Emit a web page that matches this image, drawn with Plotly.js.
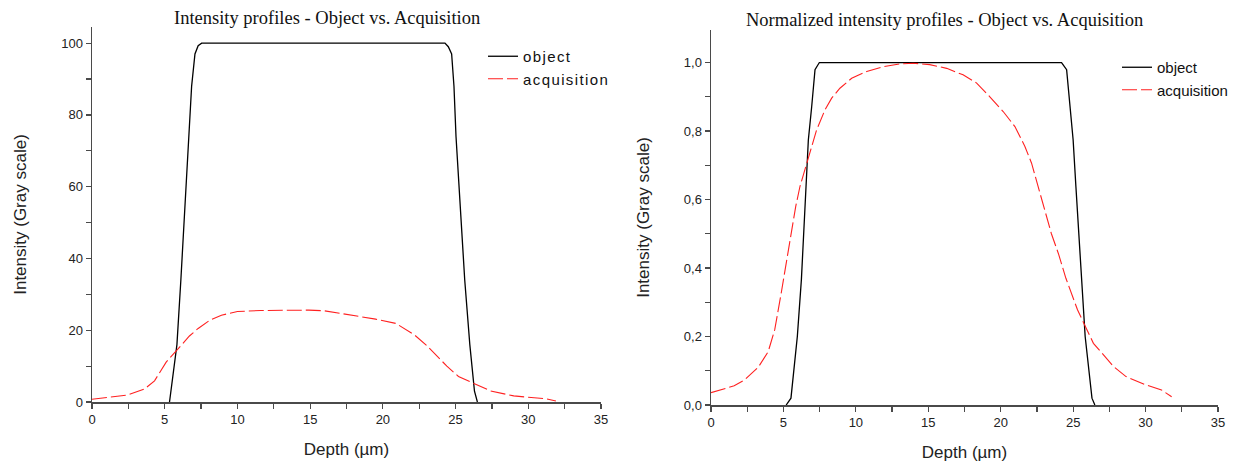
<!DOCTYPE html>
<html>
<head>
<meta charset="utf-8">
<script src="https://cdn.plot.ly/plotly-3.0.1.min.js"></script>
<style>
  html, body { margin: 0; padding: 0; background: #fff; }
  #chart { width: 1256px; height: 465px; }
  .legendtext { letter-spacing: 1.4px; }
</style>
</head>
<body>
<div id="chart"></div>
<script>
// ---- Left panel: raw intensity profiles ----
const objDepthL = [5.33, 5.43, 5.84, 6.11, 6.69, 6.85, 7.08, 7.3, 7.54, 24.27, 24.5, 24.73, 24.89, 25.03, 25.63, 25.98, 26.3, 26.5];
const objIntL   = [0, 3, 16, 34, 74, 88, 97, 99.3, 100, 100, 99, 97, 88, 74, 34, 16, 3, 0];
const acqDepthL = [0, 1.58, 2.4, 3.6, 4.3, 5.1, 5.9, 6.7, 7.3, 8.1, 8.9, 10, 11.6, 12.7, 14.9, 16, 17.6, 19.5, 20.9, 22.2, 23.0, 24.4, 25.2, 26.3, 27.4, 29.0, 30.1, 31.2, 31.9];
const acqIntL   = [0.75, 1.5, 1.9, 3.6, 5.9, 11.1, 14.8, 18.4, 20.5, 22.8, 24.2, 25.2, 25.5, 25.6, 25.6, 25.4, 24.4, 23.1, 21.9, 18.6, 15.8, 10, 7.1, 5, 3.1, 1.7, 1.2, 0.9, 0.3];

// ---- Right panel: normalized intensity profiles ----
const objDepthR = [5.19, 5.52, 5.96, 6.24, 6.56, 6.72, 6.95, 7.18, 7.48, 24.2, 24.55, 24.78, 25.0, 25.19, 25.56, 25.83, 26.3, 26.5];
const objIntR   = [0, 0.02, 0.2, 0.366, 0.638, 0.774, 0.871, 0.979, 1, 1, 0.979, 0.871, 0.774, 0.638, 0.366, 0.2, 0.02, 0];
const acqDepthR = [0, 1.6, 2.3, 3.26, 3.95, 4.4, 4.86, 5.2, 5.5, 5.85, 6.14, 6.72, 7.29, 7.87, 8.33, 8.9, 9.71, 10.75, 11.89, 13.04, 13.96, 15.1, 16.27, 17.4, 18.34, 19.25, 20.17, 20.98, 21.67, 22.13, 22.59, 23.0, 23.5, 24.0, 24.5, 25.3, 26.4, 27.8, 28.65, 30.0, 31.1, 31.8];
const acqIntR   = [0.036, 0.056, 0.073, 0.110, 0.156, 0.22, 0.33, 0.42, 0.5, 0.58, 0.638, 0.72, 0.803, 0.862, 0.896, 0.925, 0.954, 0.974, 0.988, 0.996, 0.998, 0.994, 0.983, 0.964, 0.94, 0.90, 0.857, 0.813, 0.755, 0.706, 0.638, 0.575, 0.5, 0.44, 0.37, 0.278, 0.18, 0.112, 0.083, 0.059, 0.044, 0.024];

const seriesNames = ['object', 'acquisition'];
const panelTitles = ['Intensity profiles - Object vs. Acquisition', 'Normalized intensity profiles - Object vs. Acquisition'];
const xTitle = 'Depth (µm)';
const yTitle = 'Intensity (Gray scale)';

const sans = 'Liberation Sans, Arial, sans-serif';
const serif = 'Liberation Serif, Times New Roman, serif';
const axisCol = '#4a4a4a';
const objLine = {color: '#000000', width: 1.3};
const acqLine = {color: '#ff2020', width: 1.1, dash: '15px,4px'};

const traces = [
  {x: objDepthL, y: objIntL, type: 'scatter', mode: 'lines', name: seriesNames[0], line: objLine, xaxis: 'x', yaxis: 'y', legend: 'legend'},
  {x: acqDepthL, y: acqIntL, type: 'scatter', mode: 'lines', name: seriesNames[1], line: acqLine, xaxis: 'x', yaxis: 'y', legend: 'legend'},
  {x: objDepthR, y: objIntR, type: 'scatter', mode: 'lines', name: seriesNames[0], line: objLine, xaxis: 'x2', yaxis: 'y2', legend: 'legend2'},
  {x: acqDepthR, y: acqIntR, type: 'scatter', mode: 'lines', name: seriesNames[1], line: acqLine, xaxis: 'x2', yaxis: 'y2', legend: 'legend2'}
];

function xAxis(domain, anchor) {
  return {
    domain: domain, anchor: anchor, range: [0, 35], dtick: 5, tick0: 0,
    showgrid: false, zeroline: false, showline: true, linecolor: axisCol, linewidth: 1.5,
    ticks: 'outside', ticklen: 5, tickwidth: 1.2, tickcolor: axisCol,
    minor: {dtick: 2.5, ticks: 'outside', ticklen: 5, tickwidth: 1.2, tickcolor: axisCol, showgrid: false},
    tickfont: {family: sans, size: 13, color: '#222'},
    title: {text: xTitle, font: {family: sans, size: 17, color: '#222'}, standoff: 17},
    automargin: false, fixedrange: true
  };
}
function yAxis(domain, anchor, range, dtick, minorDtick, fmt, standoff) {
  return {
    domain: domain, anchor: anchor, range: range, dtick: dtick, tick0: 0, tickformat: fmt,
    showgrid: false, zeroline: false, showline: true, linecolor: axisCol, linewidth: 1.5,
    ticks: 'outside', ticklen: 5, tickwidth: 1.2, tickcolor: axisCol,
    minor: {dtick: minorDtick, ticks: 'outside', ticklen: 5, tickwidth: 1.2, tickcolor: axisCol, showgrid: false},
    tickfont: {family: sans, size: 13, color: '#222'},
    title: {text: yTitle, font: {family: sans, size: 17, color: '#222'}, standoff: standoff},
    automargin: false, fixedrange: true
  };
}

const layout = {
  width: 1256, height: 465,
  margin: {l: 0, r: 0, t: 0, b: 0},
  paper_bgcolor: '#ffffff', plot_bgcolor: '#ffffff',
  separators: ',.',
  showlegend: true,
  xaxis: xAxis([92 / 1256, 601 / 1256], 'y'),
  yaxis: yAxis([63 / 465, 438 / 465], 'x', [0, 104.5], 20, 10, 'd', 30),
  xaxis2: xAxis([711 / 1256, 1218 / 1256], 'y2'),
  yaxis2: yAxis([60 / 465, 435 / 465], 'x2', [0, 1.095], 0.2, 0.1, '.1f', 30),
  legend: {x: 483 / 1256, y: (465 - 40) / 465, xanchor: 'left', yanchor: 'top', bgcolor: 'rgba(0,0,0,0)', borderwidth: 0,
           font: {family: sans, size: 15, color: '#111'}, tracegroupgap: 0, itemwidth: 30},
  legend2: {x: 1117 / 1256, y: (465 - 51) / 465, xanchor: 'left', yanchor: 'top', bgcolor: 'rgba(0,0,0,0)', borderwidth: 0,
           font: {family: sans, size: 15, color: '#111'}, tracegroupgap: 0, itemwidth: 30},
  annotations: [
    {text: panelTitles[0], xref: 'paper', yref: 'paper', x: 327 / 1256, y: (465 - 18) / 465, xanchor: 'center', yanchor: 'middle',
     showarrow: false, font: {family: serif, size: 18.5, color: '#111'}},
    {text: panelTitles[1], xref: 'paper', yref: 'paper', x: 944 / 1256, y: (465 - 20) / 465, xanchor: 'center', yanchor: 'middle',
     showarrow: false, font: {family: serif, size: 18.5, color: '#111'}}
  ]
};

Plotly.newPlot('chart', traces, layout, {staticPlot: true, displayModeBar: false});
</script>
</body>
</html>
